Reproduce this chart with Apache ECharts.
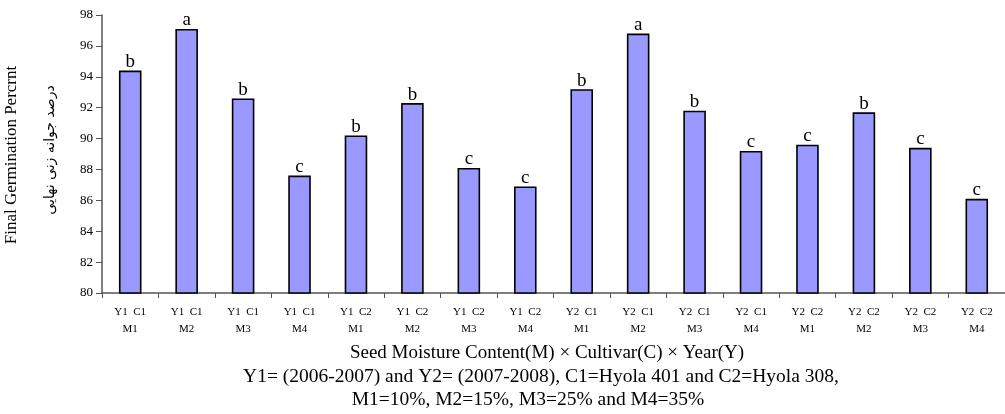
<!DOCTYPE html>
<html><head><meta charset="utf-8">
<script src="https://cdn.jsdelivr.net/npm/echarts@6/dist/echarts.min.js"></script>
<style>html,body{margin:0;padding:0;background:#fff}#c{width:1005px;height:414px}</style>
</head><body><div id="c"></div>
<script>
const categories = ["Y1  C1\nM1","Y1  C1\nM2","Y1  C1\nM3","Y1  C1\nM4","Y1  C2\nM1","Y1  C2\nM2","Y1  C2\nM3","Y1  C2\nM4",
  "Y2  C1\nM1","Y2  C1\nM2","Y2  C1\nM3","Y2  C1\nM4","Y2  C2\nM1","Y2  C2\nM2","Y2  C2\nM3","Y2  C2\nM4"];
const values = [94.4,97.1,92.6,87.6,90.2,92.3,88.1,86.9,93.2,96.8,91.8,89.2,89.6,91.7,89.4,86.1];
const letters = ["b","a","b","c","b","b","c","c","b","a","b","c","c","b","c","c"];
const yTicks = [80,82,84,86,88,90,92,94,96,98];

const serif = "Liberation Serif";
const chart = echarts.init(document.getElementById('c'));
chart.setOption({
  animation:false,
  backgroundColor:'#fff',
  grid:{left:102,right:-11,top:15,bottom:121},
  xAxis:{type:'category',data:categories,
    axisLine:{lineStyle:{color:'#555',width:1.5}},
    axisTick:{show:true,length:5,lineStyle:{color:'#555'}},
    axisLabel:{interval:0,fontFamily:serif,fontSize:11,color:'#000',lineHeight:17,margin:11}},
  yAxis:{type:'value',min:80,max:98,interval:2,
    splitLine:{show:false},
    axisLine:{show:true,lineStyle:{color:'#555',width:1.5}},
    axisTick:{show:true,length:6,lineStyle:{color:'#555'}},
    axisLabel:{fontFamily:serif,fontSize:13,color:'#000',margin:9,
      formatter:v=>yTicks.includes(v)?String(v):''}},
  series:[{type:'bar',data:values.map((v,i)=>({value:v,label:{formatter:letters[i]}})),
    barWidth:'40%',
    itemStyle:{color:'#9999FF',borderColor:'#000',borderWidth:1.6},
    label:{show:true,position:'top',distance:-1,fontFamily:serif,fontSize:19,color:'#000'}}],
  graphic:[
    {type:'text',x:547,y:353,style:{text:'Seed Moisture Content(M) × Cultivar(C) × Year(Y)',font:'19px "Liberation Serif"',fill:'#000',align:'center',verticalAlign:'middle'}},
    {type:'text',x:541,y:377,style:{text:'Y1= (2006-2007) and Y2= (2007-2008), C1=Hyola 401 and C2=Hyola 308,',font:'19.5px "Liberation Serif"',fill:'#000',align:'center',verticalAlign:'middle'}},
    {type:'text',x:528,y:400,style:{text:'M1=10%, M2=15%, M3=25% and M4=35%',font:'19.5px "Liberation Serif"',fill:'#000',align:'center',verticalAlign:'middle'}},
    {type:'text',x:12,y:155,rotation:Math.PI/2,style:{text:'Final Germination Percrnt',font:'17px "Liberation Serif"',fill:'#000',align:'center',verticalAlign:'middle'}},
    {type:'text',x:50,y:150,rotation:Math.PI/2,style:{text:'درصد جوانه زنی نهایی',font:'14px "DejaVu Sans"',fill:'#000',align:'center',verticalAlign:'middle'}}
  ]
});
</script></body></html>
